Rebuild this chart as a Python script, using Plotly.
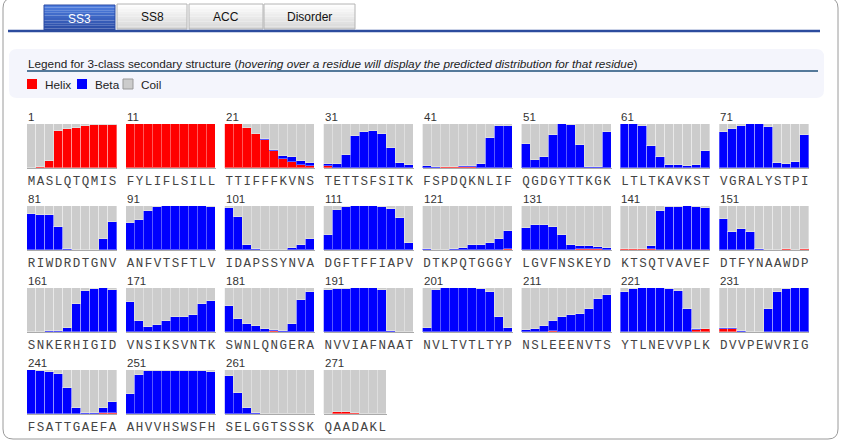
import plotly.graph_objects as go

# Sequence, 10 residues per block
seq = ("MASLQTQMIS" "FYLIFLSILL" "TTIFFFKVNS" "TETTSFSITK" "FSPDQKNLIF"
       "QGDGYTTKGK" "LTLTKAVKST" "VGRALYSTPI" "RIWDRDTGNV" "ANFVTSFTLV"
       "IDAPSSYNVA" "DGFTFFIAPV" "DTKPQTGGGY" "LGVFNSKEYD" "KTSQTVAVEF"
       "DTFYNAAWDP" "SNKERHIGID" "VNSIKSVNTK" "SWNLQNGERA" "NVVIAFNAAT"
       "NVLTVTLTYP" "NSLEEENVTS" "YTLNEVVPLK" "DVVPEWVRIG" "FSATTGAEFA"
       "AHVVHSWSFH" "SELGGTSSSK" "QAADAKL")

# predicted probability of helix per residue
helix = [
    0, 0.03, 0.15, 0.85, 0.88, 0.92, 0.95, 0.97, 0.98, 0.98,
    0.99, 1.0, 1.0, 1.0, 1.0, 1.0, 1.0, 1.0, 1.0, 0.99,
    0.99, 0.99, 0.91, 0.78, 0.63, 0.38, 0.2, 0.13, 0.07, 0.05,
    0.04, 0.01, 0, 0, 0, 0, 0, 0, 0, 0,
    0, 0, 0.03, 0.03, 0.03, 0.03, 0, 0, 0, 0,
    0, 0, 0, 0, 0, 0, 0, 0, 0, 0,
    0, 0, 0, 0, 0, 0, 0, 0, 0, 0,
    0, 0, 0, 0, 0, 0, 0, 0, 0, 0,
    0, 0, 0, 0, 0, 0, 0, 0, 0, 0,
    0, 0, 0, 0, 0, 0, 0, 0, 0, 0,
    0, 0, 0, 0, 0, 0, 0, 0, 0, 0,
    0, 0, 0, 0, 0, 0, 0, 0, 0, 0,
    0, 0, 0, 0, 0, 0, 0, 0.01, 0.01, 0.02,
    0.01, 0, 0, 0, 0, 0.01, 0.02, 0.02, 0.02, 0.01,
    0.03, 0.03, 0.03, 0.02, 0, 0, 0, 0, 0, 0,
    0, 0, 0, 0, 0, 0.01, 0.01, 0.02, 0, 0.02,
    0.01, 0.01, 0, 0, 0, 0, 0, 0, 0, 0,
    0, 0.01, 0.01, 0.01, 0.01, 0, 0, 0, 0, 0,
    0, 0, 0, 0, 0.01, 0.02, 0, 0, 0, 0,
    0, 0, 0, 0, 0, 0, 0, 0, 0, 0,
    0, 0, 0, 0, 0, 0, 0, 0, 0, 0,
    0, 0, 0.01, 0.02, 0.01, 0.01, 0, 0, 0, 0,
    0, 0, 0, 0, 0, 0, 0, 0, 0.05, 0.06,
    0.07, 0.07, 0, 0, 0, 0, 0, 0, 0, 0,
    0, 0, 0, 0, 0, 0, 0.01, 0.01, 0.02, 0.02,
    0, 0, 0, 0, 0, 0, 0, 0, 0, 0,
    0, 0, 0, 0, 0, 0, 0, 0, 0, 0,
    0.01, 0.04, 0.045, 0.03, 0.01, 0, 0,
]

# predicted probability of beta strand per residue
beta = [
    0, 0, 0, 0, 0, 0, 0, 0, 0, 0,
    0, 0, 0, 0, 0, 0, 0, 0, 0, 0,
    0, 0, 0.01, 0, 0.02, 0.04, 0.08, 0.11, 0.08, 0.06,
    0.04, 0.07, 0.3, 0.72, 0.82, 0.84, 0.78, 0.45, 0.11, 0.07,
    0.05, 0.02, 0, 0, 0.01, 0.01, 0.09, 0.68, 0.96, 0.95,
    0.54, 0.19, 0.24, 0.76, 0.99, 0.97, 0.52, 0.02, 0.03, 0.81,
    0.99, 0.99, 0.96, 0.5, 0.25, 0.07, 0.07, 0.05, 0.07, 0.39,
    0.81, 0.89, 0.96, 0.99, 0.99, 0.94, 0.11, 0.08, 0.13, 0.75,
    0.81, 0.79, 0.79, 0.52, 0.02, 0, 0, 0.01, 0.26, 0.63,
    0.61, 0.68, 0.89, 0.98, 0.99, 0.99, 0.99, 0.99, 1.0, 0.98,
    0.95, 0.75, 0.11, 0.02, 0, 0, 0.01, 0.04, 0.11, 0.24,
    0.33, 0.9, 0.98, 0.99, 1.0, 0.99, 0.98, 0.93, 0.73, 0.16,
    0.02, 0, 0.01, 0.02, 0.05, 0.11, 0.12, 0.14, 0.24, 0.42,
    0.5, 0.56, 0.57, 0.53, 0.34, 0.11, 0.06, 0.06, 0.04, 0.04,
    0, 0, 0, 0.06, 0.89, 0.98, 0.98, 0.99, 0.98, 0.95,
    0.71, 0.42, 0.48, 0.4, 0.02, 0, 0, 0, 0.01, 0,
    0, 0, 0.02, 0.02, 0.1, 0.63, 0.94, 0.98, 0.99, 0.96,
    0.68, 0.24, 0.11, 0.15, 0.23, 0.33, 0.35, 0.39, 0.64, 0.71,
    0.6, 0.29, 0.19, 0.13, 0.06, 0.03, 0.03, 0.19, 0.73, 0.91,
    0.96, 0.98, 0.98, 0.99, 1.0, 0.99, 0.95, 0.02, 0, 0.01,
    0.08, 0.95, 0.99, 1.0, 1.0, 0.99, 0.98, 0.92, 0.35, 0.1,
    0.04, 0.06, 0.12, 0.22, 0.32, 0.37, 0.4, 0.53, 0.75, 0.85,
    0.91, 0.98, 0.99, 0.99, 0.99, 0.98, 0.93, 0.53, 0.01, 0.01,
    0.01, 0.01, 0.02, 0.01, 0.01, 0.53, 0.9, 0.98, 0.99, 1.0,
    1.0, 0.98, 0.96, 0.92, 0.6, 0.14, 0.01, 0.01, 0.12, 0.25,
    0.45, 0.88, 0.98, 0.98, 0.98, 0.98, 0.98, 0.98, 0.98, 0.95,
    0.86, 0.48, 0.14, 0.02, 0.01, 0.01, 0.01, 0.01, 0.01, 0.01,
    0, 0, 0, 0, 0, 0, 0,
]

tabs = ["SS3", "SS8", "ACC", "Disorder"]
classes = ["Helix", "Beta", "Coil"]
class_colors = ["#ff0000", "#0000ff", "#cccccc"]

# page geometry (pixels)
W, H = 844, 443
BLOCK = 10
PER_ROW = 8
X0, DX = 27, 98.9
Y0, DY = 124, 82
BAR_W, BLOCK_H = 9, 44
SANS = "Liberation Sans, Arial, sans-serif"
MONO = "Liberation Mono, Courier New, monospace"

fig = go.Figure()
layout = {}
annotations = []
shapes = []

n_blocks = (len(seq) + BLOCK - 1) // BLOCK
for b in range(n_blocks):
    lo, hi = b * BLOCK, min((b + 1) * BLOCK, len(seq))
    n = hi - lo
    idx = list(range(n))
    h = helix[lo:hi]
    e = beta[lo:hi]
    c = [max(0, 1 - a - bb) for a, bb in zip(h, e)]
    k = b + 1
    xn, yn = ("x", "y") if k == 1 else (f"x{k}", f"y{k}")
    res = [f"{seq[lo + i]}{lo + i + 1}" for i in idx]
    for vals, col, name in zip([h, e, c], class_colors, classes):
        fig.add_trace(go.Bar(
            x=idx, y=vals, xaxis=xn, yaxis=yn, name=name, showlegend=False,
            marker=dict(color=col, line=dict(color="rgba(255,255,255,0.35)", width=1)),
            customdata=res,
            hovertemplate="%{customdata}<br>" + name + ": %{y:.2f}<extra></extra>",
        ))
    row, colm = divmod(b, PER_ROW)
    left = X0 + colm * DX
    top = Y0 + row * DY
    layout[f"xaxis{k}"] = dict(
        domain=[left / W, (left + n * BAR_W) / W], anchor=yn,
        range=[-0.5, n - 0.5], tickvals=idx, ticktext=list(seq[lo:hi]),
        tickangle=0, automargin=False, ticks="", ticklabelstandoff=1,
        tickfont=dict(family=MONO, size=12.5, color="#444"),
        showgrid=False, zeroline=False, showline=True, linecolor="#aaaaaa",
        linewidth=1, fixedrange=True,
    )
    layout[f"yaxis{k}"] = dict(
        domain=[1 - (top + BLOCK_H) / H, 1 - top / H], anchor=xn,
        range=[0, 1], visible=False, fixedrange=True,
    )
    annotations.append(dict(
        xref="paper", yref="paper", x=left / W, y=1 - top / H,
        xanchor="left", yanchor="bottom", xshift=-1, yshift=-1, showarrow=False,
        text=str(lo + 1), font=dict(family=SANS, size=11.5, color="#333"),
    ))

# overlay axes in pixel units for page decorations
D = n_blocks + 1
layout[f"xaxis{D}"] = dict(domain=[0, 1], range=[0, W], visible=False,
                           anchor=f"y{D}", fixedrange=True)
layout[f"yaxis{D}"] = dict(domain=[0, 1], range=[H, 0], visible=False,
                           anchor=f"x{D}", fixedrange=True)
xr, yr = f"x{D}", f"y{D}"


def rect(x0, y0, x1, y1, fill, line=None, lw=1):
    shapes.append(dict(type="rect", xref=xr, yref=yr, x0=x0, y0=y0, x1=x1, y1=y1,
                       fillcolor=fill, line=dict(color=line or "rgba(0,0,0,0)",
                                                 width=lw if line else 0),
                       layer="below"))


def mix(c1, c2, t):
    a = [int(c1[i:i + 2], 16) for i in (1, 3, 5)]
    bb = [int(c2[i:i + 2], 16) for i in (1, 3, 5)]
    return "#" + "".join(f"{round(p + (q - p) * t):02x}" for p, q in zip(a, bb))


def rounded(x0, y0, x1, y1, r):
    return (f"M{x0 + r},{y0} L{x1 - r},{y0} Q{x1},{y0} {x1},{y0 + r} "
            f"L{x1},{y1 - r} Q{x1},{y1} {x1 - r},{y1} L{x0 + r},{y1} "
            f"Q{x0},{y1} {x0},{y1 - r} L{x0},{y0 + r} Q{x0},{y0} {x0 + r},{y0} Z")


# outer frame
shapes.append(dict(type="path", xref=xr, yref=yr, path=rounded(3, -2, 838, 439, 10),
                   line=dict(color="#9a9a9a", width=1), fillcolor="rgba(0,0,0,0)",
                   layer="below"))

# tabs
tab_x = [(44, 115), (117, 187), (189, 263), (264, 355)]
for i, (name, (a, bx)) in enumerate(zip(tabs, tab_x)):
    active = i == 0
    t0, t1 = (5, 31) if active else (4, 29)
    c_top, c_bot = ("#4d7ddf", "#2a4aa3") if active else ("#fdfdfd", "#d9d9d9")
    steps = 10
    for s in range(steps):
        y_a = t0 + (t1 - t0) * s / steps
        y_b = t0 + (t1 - t0) * (s + 1) / steps
        rect(a, y_a, bx, y_b, mix(c_top, c_bot, s / (steps - 1)))
    rect(a, t0, bx, t1, "rgba(0,0,0,0)", "#2a4aa3" if active else "#b4b4b4")
    annotations.append(dict(
        xref=xr, yref=yr, x=(a + bx) / 2, y=(t0 + t1) / 2 + 0.5, showarrow=False,
        text=name, font=dict(family=SANS, size=12, color="white" if active else "#111"),
    ))

# blue rule under tabs
shapes.append(dict(type="line", xref=xr, yref=yr, x0=8, x1=820, y0=31, y1=31,
                   line=dict(color="#2c4c9e", width=2.5), layer="below"))

# legend panel
shapes.append(dict(type="path", xref=xr, yref=yr, path=rounded(9, 49, 824, 98, 8),
                   fillcolor="#f4f5fc", line=dict(width=0), layer="below"))
annotations.append(dict(
    xref=xr, yref=yr, x=26, y=63, xanchor="left", showarrow=False,
    text="Legend for 3-class secondary structure (<i>hovering over a residue will "
         "display the predicted distribution for that residue</i>)",
    font=dict(family=SANS, size=11.75, color="#222"),
))
shapes.append(dict(type="line", xref=xr, yref=yr, x0=27, x1=818, y0=71, y1=71,
                   line=dict(color="#1f4f7a", width=1.5), layer="below"))
leg_x = [27, 77, 123]
for name, col, lx in zip(classes, class_colors, leg_x):
    rect(lx, 79, lx + 10, 89, col, "#999999" if name == "Coil" else None)
    annotations.append(dict(
        xref=xr, yref=yr, x=lx + 16, y=84.5, xanchor="left", showarrow=False,
        text=name, font=dict(family=SANS, size=11.75, color="#222"),
    ))

fig.update_layout(
    width=W, height=H, margin=dict(l=0, r=0, t=0, b=0, autoexpand=False),
    paper_bgcolor="white", plot_bgcolor="rgba(0,0,0,0)",
    barmode="stack", bargap=0, showlegend=False,
    annotations=annotations, shapes=shapes,
    hoverlabel=dict(font=dict(family=SANS, size=11)),
    **layout,
)

fig.write_html("out.html", config={"displayModeBar": False},
               post_script="document.body.style.margin='0';")
